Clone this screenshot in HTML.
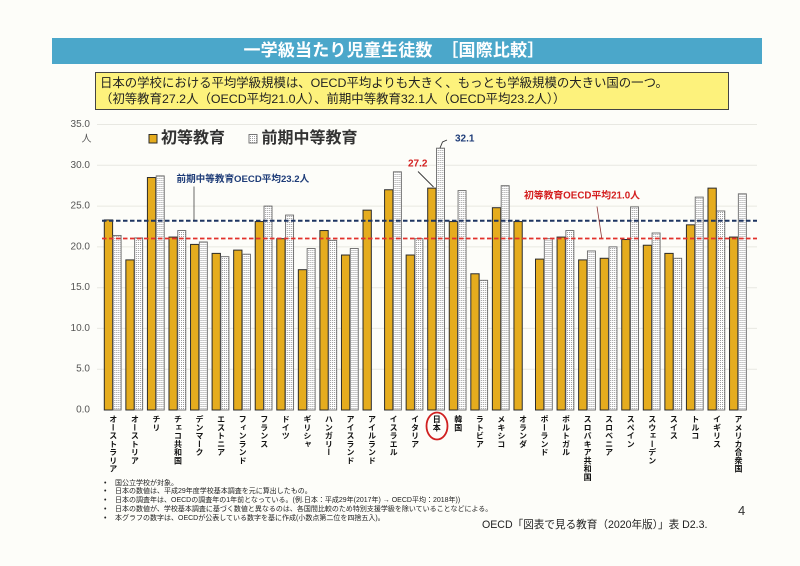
<!DOCTYPE html>
<html lang="ja">
<head>
<meta charset="utf-8">
<style>
  html,body{margin:0;padding:0;}
  body{width:800px;height:566px;overflow:hidden;background:#fdfdf9;position:relative;
       font-family:"Liberation Sans","Noto Sans CJK JP",sans-serif;}
  .abs{position:absolute;}
  #title{left:52px;top:38px;width:710px;height:26px;background:#4ba7ca;color:#fff;
         font-weight:bold;font-size:17px;line-height:26px;text-align:center;box-sizing:border-box;padding-right:26px;
         letter-spacing:0.2px;white-space:nowrap;}
  #box{left:95px;top:72px;width:634px;height:38px;background:#fdf27c;border:1px solid #444;box-sizing:border-box;
       font-size:12.4px;line-height:15.5px;color:#222;padding:3px 0 0 4px;white-space:nowrap;}
  .xl{position:absolute;top:415px;width:8px;writing-mode:vertical-rl;font-size:8px;line-height:8px;
      font-weight:bold;color:#111;letter-spacing:0.25px;white-space:nowrap;
      font-family:"Liberation Sans","Noto Sans CJK JP",sans-serif;}
  #notes{left:104px;top:479.5px;font-size:7px;line-height:8.8px;color:#222;white-space:nowrap;}
  #notes div{position:relative;padding-left:11px;}
  #notes div:before{content:"•";position:absolute;left:0;top:0;}
  #src{left:482px;top:518px;font-size:10.6px;line-height:14px;color:#222;white-space:nowrap;}
  #pg{left:738px;top:503px;font-size:13px;line-height:16px;color:#333;}
</style>
</head>
<body>
<svg class="abs" style="left:0;top:0" width="800" height="566" viewBox="0 0 800 566">
  <defs>
    <pattern id="dots" width="2" height="2" patternUnits="userSpaceOnUse">
      <rect width="2" height="2" fill="#ffffff"/>
      <rect width="1" height="1" fill="#9a9a9a"/>
    </pattern>
    <style>
      .o{fill:#e5ac1e;stroke:#2b2b2b;stroke-width:1;}
      .d{fill:url(#dots);stroke:#6a6a6a;stroke-width:0.9;}
      .g{stroke:#e8e8e2;stroke-width:1;}
      .yt{font-size:10px;fill:#555;text-anchor:end;dominant-baseline:central;font-family:"Liberation Sans",sans-serif;}
    </style>
  </defs>
  <line class="g" x1="97" y1="124.5" x2="757" y2="124.5"/>
  <line class="g" x1="97" y1="165.3" x2="757" y2="165.3"/>
  <line class="g" x1="97" y1="206.1" x2="757" y2="206.1"/>
  <line class="g" x1="97" y1="246.9" x2="757" y2="246.9"/>
  <line class="g" x1="97" y1="287.7" x2="757" y2="287.7"/>
  <line class="g" x1="97" y1="328.4" x2="757" y2="328.4"/>
  <line class="g" x1="97" y1="369.2" x2="757" y2="369.2"/>
  <text class="yt" x="90" y="124.5">35.0</text>
  <text class="yt" x="90" y="165.3">30.0</text>
  <text class="yt" x="90" y="206.1">25.0</text>
  <text class="yt" x="90" y="246.9">20.0</text>
  <text class="yt" x="90" y="287.7">15.0</text>
  <text class="yt" x="90" y="328.4">10.0</text>
  <text class="yt" x="90" y="369.2">5.0</text>
  <text class="yt" x="90" y="410">0.0</text>
  <text x="86.5" y="139.5" font-size="10" fill="#555" text-anchor="middle" dominant-baseline="central" font-family="Liberation Sans,Noto Sans CJK JP,sans-serif">人</text>

  <rect x="149" y="134.5" width="8" height="8.5" class="o"/>
  <text x="161" y="138.5" font-size="16" font-weight="bold" fill="#333" dominant-baseline="central" font-family="Liberation Sans,Noto Sans CJK JP,sans-serif">初等教育</text>
  <rect x="249" y="134.5" width="8" height="8.5" class="d"/>
  <text x="261.5" y="138.5" font-size="16" font-weight="bold" fill="#333" dominant-baseline="central" font-family="Liberation Sans,Noto Sans CJK JP,sans-serif">前期中等教育</text>

  <g transform="translate(104.3,0)"><rect class="o" x="0" y="219.94" width="8.3" height="190.06"/><rect class="d" x="8.8" y="235.44" width="8" height="174.56"/></g>
  <g transform="translate(125.86,0)"><rect class="o" x="0" y="259.91" width="8.3" height="150.09"/><rect class="d" x="8.8" y="237.89" width="8" height="172.11"/></g>
  <g transform="translate(147.42,0)"><rect class="o" x="0" y="177.53" width="8.3" height="232.47"/><rect class="d" x="8.8" y="175.89" width="8" height="234.11"/></g>
  <g transform="translate(168.98,0)"><rect class="o" x="0" y="237.07" width="8.3" height="172.93"/><rect class="d" x="8.8" y="230.55" width="8" height="179.45"/></g>
  <g transform="translate(190.54,0)"><rect class="o" x="0" y="244.41" width="8.3" height="165.59"/><rect class="d" x="8.8" y="241.97" width="8" height="168.03"/></g>
  <g transform="translate(212.1,0)"><rect class="o" x="0" y="253.39" width="8.3" height="156.61"/><rect class="d" x="8.8" y="256.65" width="8" height="153.35"/></g>
  <g transform="translate(233.66,0)"><rect class="o" x="0" y="250.12" width="8.3" height="159.88"/><rect class="d" x="8.8" y="254.2" width="8" height="155.8"/></g>
  <g transform="translate(255.22,0)"><rect class="o" x="0" y="221.57" width="8.3" height="188.43"/><rect class="d" x="8.8" y="206.07" width="8" height="203.93"/></g>
  <g transform="translate(276.78,0)"><rect class="o" x="0" y="238.7" width="8.3" height="171.3"/><rect class="d" x="8.8" y="215.05" width="8" height="194.95"/></g>
  <g transform="translate(298.34,0)"><rect class="o" x="0" y="269.7" width="8.3" height="140.3"/><rect class="d" x="8.8" y="248.49" width="8" height="161.51"/></g>
  <g transform="translate(319.9,0)"><rect class="o" x="0" y="230.55" width="8.3" height="179.45"/><rect class="d" x="8.8" y="240.33" width="8" height="169.67"/></g>
  <g transform="translate(341.46,0)"><rect class="o" x="0" y="255.02" width="8.3" height="154.98"/><rect class="d" x="8.8" y="248.49" width="8" height="161.51"/></g>
  <g transform="translate(363.02,0)"><rect class="o" x="0" y="210.15" width="8.3" height="199.85"/></g>
  <g transform="translate(384.58,0)"><rect class="o" x="0" y="189.76" width="8.3" height="220.24"/><rect class="d" x="8.8" y="171.82" width="8" height="238.18"/></g>
  <g transform="translate(406.14,0)"><rect class="o" x="0" y="255.02" width="8.3" height="154.98"/><rect class="d" x="8.8" y="238.7" width="8" height="171.3"/></g>
  <g transform="translate(427.7,0)"><rect class="o" x="0" y="188.13" width="8.3" height="221.87"/><rect class="d" x="8.8" y="148.16" width="8" height="261.84"/></g>
  <g transform="translate(449.26,0)"><rect class="o" x="0" y="221.57" width="8.3" height="188.43"/><rect class="d" x="8.8" y="190.58" width="8" height="219.42"/></g>
  <g transform="translate(470.82,0)"><rect class="o" x="0" y="273.78" width="8.3" height="136.22"/><rect class="d" x="8.8" y="280.3" width="8" height="129.7"/></g>
  <g transform="translate(492.38,0)"><rect class="o" x="0" y="207.71" width="8.3" height="202.29"/><rect class="d" x="8.8" y="185.68" width="8" height="224.32"/></g>
  <g transform="translate(513.94,0)"><rect class="o" x="0" y="221.57" width="8.3" height="188.43"/></g>
  <g transform="translate(535.5,0)"><rect class="o" x="0" y="259.1" width="8.3" height="150.9"/><rect class="d" x="8.8" y="238.7" width="8" height="171.3"/></g>
  <g transform="translate(557.06,0)"><rect class="o" x="0" y="237.07" width="8.3" height="172.93"/><rect class="d" x="8.8" y="230.55" width="8" height="179.45"/></g>
  <g transform="translate(578.62,0)"><rect class="o" x="0" y="259.91" width="8.3" height="150.09"/><rect class="d" x="8.8" y="250.94" width="8" height="159.06"/></g>
  <g transform="translate(600.18,0)"><rect class="o" x="0" y="258.28" width="8.3" height="151.72"/><rect class="d" x="8.8" y="246.86" width="8" height="163.14"/></g>
  <g transform="translate(621.74,0)"><rect class="o" x="0" y="239.52" width="8.3" height="170.48"/><rect class="d" x="8.8" y="206.89" width="8" height="203.11"/></g>
  <g transform="translate(643.3,0)"><rect class="o" x="0" y="245.23" width="8.3" height="164.77"/><rect class="d" x="8.8" y="232.99" width="8" height="177.01"/></g>
  <g transform="translate(664.86,0)"><rect class="o" x="0" y="253.39" width="8.3" height="156.61"/><rect class="d" x="8.8" y="258.28" width="8" height="151.72"/></g>
  <g transform="translate(686.42,0)"><rect class="o" x="0" y="224.84" width="8.3" height="185.16"/><rect class="d" x="8.8" y="197.1" width="8" height="212.9"/></g>
  <g transform="translate(707.98,0)"><rect class="o" x="0" y="188.13" width="8.3" height="221.87"/><rect class="d" x="8.8" y="210.97" width="8" height="199.03"/></g>
  <g transform="translate(729.54,0)"><rect class="o" x="0" y="237.07" width="8.3" height="172.93"/><rect class="d" x="8.8" y="193.84" width="8" height="216.16"/></g>

  <line x1="102" y1="220.7" x2="757" y2="220.7" stroke="#1d3461" stroke-width="2" stroke-dasharray="4.5 2.5"/>
  <line x1="102" y1="238.5" x2="757" y2="238.5" stroke="#e2312b" stroke-width="1.8" stroke-dasharray="4.5 2.5"/>

  <text x="176.5" y="179.5" font-size="9.6" font-weight="bold" fill="#1e3c78" dominant-baseline="central" font-family="Liberation Sans,Noto Sans CJK JP,sans-serif">前期中等教育OECD平均23.2人</text>
  <line x1="194" y1="186.5" x2="194" y2="220" stroke="#444" stroke-width="0.8"/>
  <text x="524" y="196" font-size="9.8" font-weight="bold" fill="#d42020" dominant-baseline="central" font-family="Liberation Sans,Noto Sans CJK JP,sans-serif">初等教育OECD平均21.0人</text>
  <line x1="597" y1="206.5" x2="601.7" y2="238" stroke="#8a3030" stroke-width="0.8"/>
  <text x="408" y="164" font-size="10" font-weight="bold" fill="#d42020" dominant-baseline="central" font-family="Liberation Sans,sans-serif">27.2</text>
  <line x1="418" y1="171.5" x2="433.5" y2="187" stroke="#333" stroke-width="0.9"/>
  <text x="455" y="139" font-size="10" font-weight="bold" fill="#1e3c78" dominant-baseline="central" font-family="Liberation Sans,sans-serif">32.1</text>
  <polyline points="440,148 442.5,142 447,140" fill="none" stroke="#333" stroke-width="0.9"/>

  <ellipse cx="437" cy="426" rx="10.5" ry="13.5" fill="none" stroke="#d02020" stroke-width="1.8"/>
</svg>

<div id="title" class="abs">一学級当たり児童生徒数　［国際比較］</div>
<div id="box" class="abs">日本の学校における平均学級規模は、OECD平均よりも大きく、もっとも学級規模の大きい国の一つ。<br>（初等教育27.2人（OECD平均21.0人）、前期中等教育32.1人（OECD平均23.2人））</div>

<div class="xl" style="left:108.8px">オーストラリア</div>
<div class="xl" style="left:130.36px">オーストリア</div>
<div class="xl" style="left:151.92px">チリ</div>
<div class="xl" style="left:173.48px">チェコ共和国</div>
<div class="xl" style="left:195.04px">デンマーク</div>
<div class="xl" style="left:216.6px">エストニア</div>
<div class="xl" style="left:238.16px">フィンランド</div>
<div class="xl" style="left:259.72px">フランス</div>
<div class="xl" style="left:281.28px">ドイツ</div>
<div class="xl" style="left:302.84px">ギリシャ</div>
<div class="xl" style="left:324.4px">ハンガリー</div>
<div class="xl" style="left:345.96px">アイスランド</div>
<div class="xl" style="left:367.52px">アイルランド</div>
<div class="xl" style="left:389.08px">イスラエル</div>
<div class="xl" style="left:410.64px">イタリア</div>
<div class="xl" style="left:432.2px">日本</div>
<div class="xl" style="left:453.76px">韓国</div>
<div class="xl" style="left:475.32px">ラトビア</div>
<div class="xl" style="left:496.88px">メキシコ</div>
<div class="xl" style="left:518.44px">オランダ</div>
<div class="xl" style="left:540px">ポーランド</div>
<div class="xl" style="left:561.56px">ポルトガル</div>
<div class="xl" style="left:583.12px">スロバキア共和国</div>
<div class="xl" style="left:604.68px">スロベニア</div>
<div class="xl" style="left:626.24px">スペイン</div>
<div class="xl" style="left:647.8px">スウェーデン</div>
<div class="xl" style="left:669.36px">スイス</div>
<div class="xl" style="left:690.92px">トルコ</div>
<div class="xl" style="left:712.48px">イギリス</div>
<div class="xl" style="left:734.04px">アメリカ合衆国</div>

<div id="notes" class="abs">
  <div>国公立学校が対象。</div>
  <div>日本の数値は、平成29年度学校基本調査を元に算出したもの。</div>
  <div>日本の調査年は、OECDの調査年の1年前となっている。(例.日本：平成29年(2017年) → OECD平均：2018年))</div>
  <div>日本の数値が、学校基本調査に基づく数値と異なるのは、各国間比較のため特別支援学級を除いていることなどによる。</div>
  <div>本グラフの数字は、OECDが公表している数字を基に作成(小数点第二位を四捨五入)。</div>
</div>

<div id="pg" class="abs">4</div>
<div id="src" class="abs">OECD「図表で見る教育（2020年版）」表 D2.3.</div>
</body>
</html>
